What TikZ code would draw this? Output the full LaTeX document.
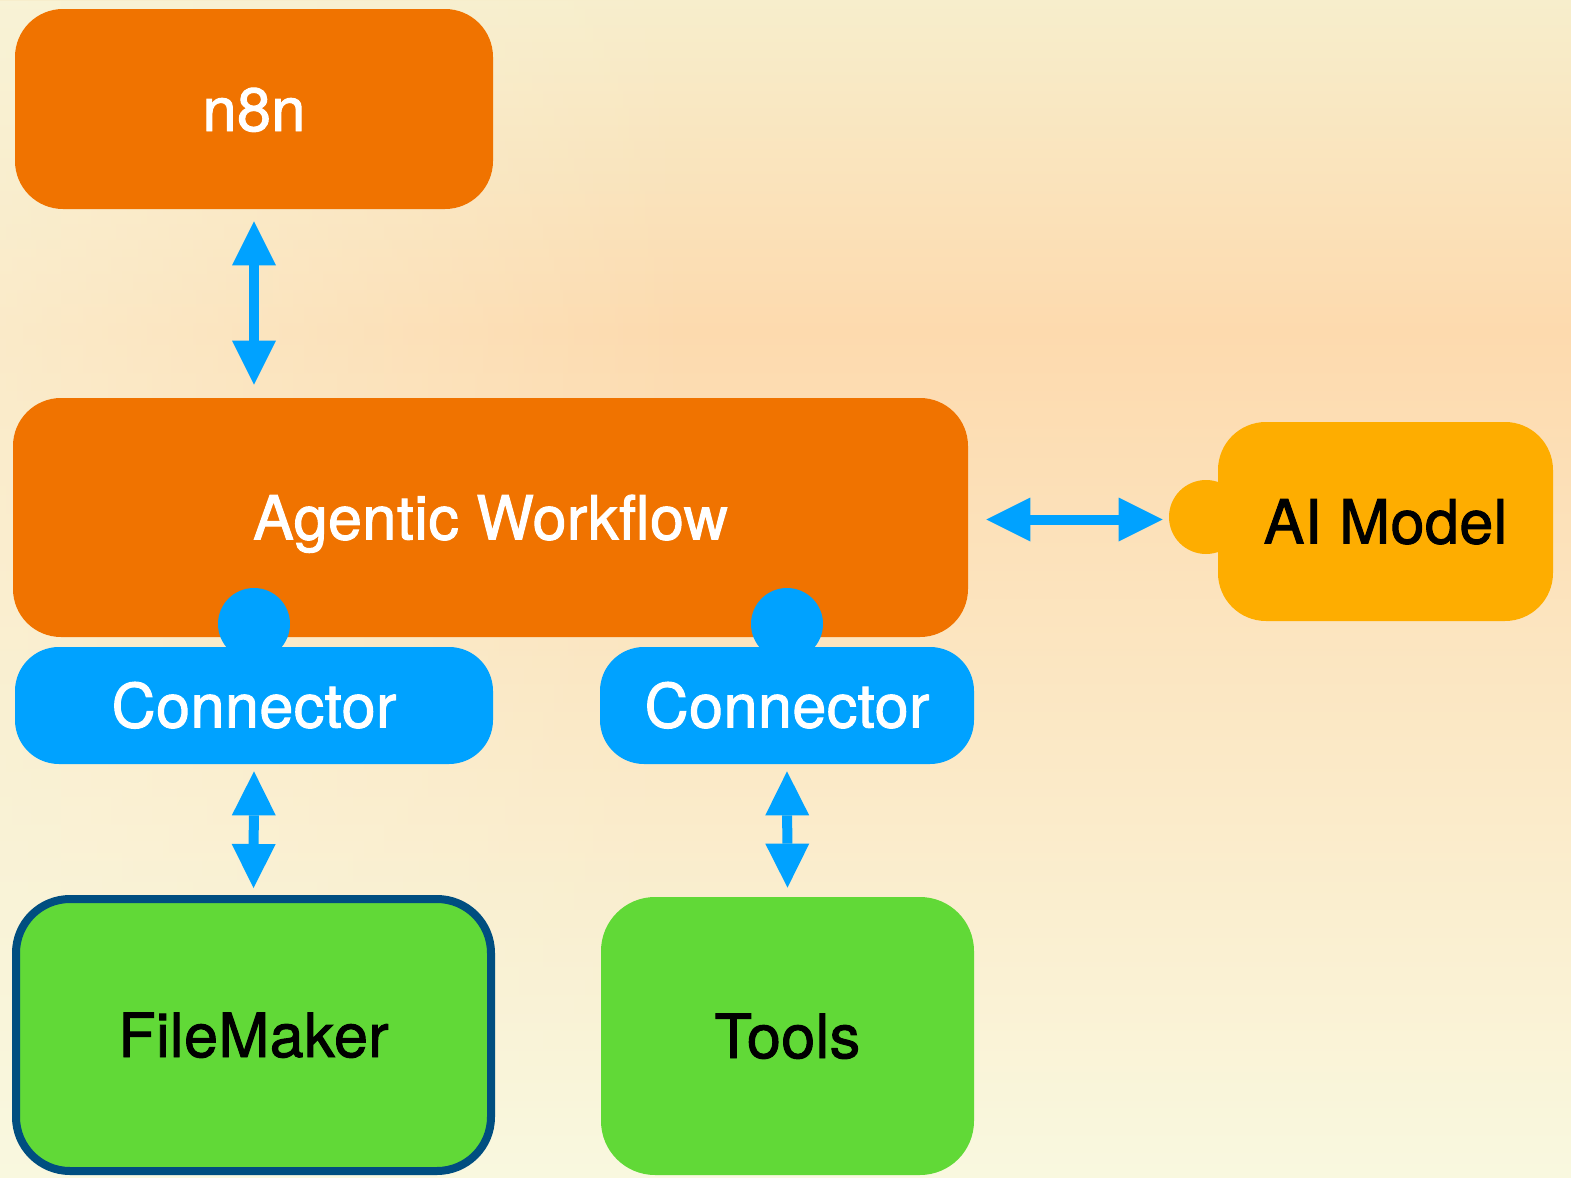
\documentclass[tikz,border=0pt]{standalone}
\usepackage{fontspec}
\setmainfont{TeX Gyre Heros}[FakeBold=1.6,LetterSpace=0.8,AutoFakeBold=1.6]
\usetikzlibrary{arrows.meta,fadings}
\definecolor{bgtop}{HTML}{F7EECC}
\definecolor{bgmid}{HTML}{FDDAAE}
\definecolor{bgbot}{HTML}{F9F8DF}
\definecolor{orng}{HTML}{F07300}
\definecolor{amber}{HTML}{FEAD00}
\definecolor{cblue}{HTML}{00A2FF}
\definecolor{grn}{HTML}{61D937}
\definecolor{navy}{HTML}{004E80}
\begin{document}
\begin{tikzpicture}[x=0.5pt,y=-0.5pt,
  box/.style={rounded corners=24pt, inner sep=0pt, text height=22pt, text depth=0pt,
    font=\fontsize{30.5pt}{36pt}\selectfont\bfseries},
  orangebox/.style={box, fill=orng, text=white},
  bluebox/.style={box, fill=cblue, text=white, rounded corners=22pt},
  greenbox/.style={box, fill=grn, text=black, rounded corners=27pt},
  bump/.style={circle, inner sep=0pt, minimum size=36pt},
  biarrow/.style={cblue, line width=5pt,
    {Triangle[length=22pt,width=22pt,line width=0pt]}-{Triangle[length=22pt,width=22pt,line width=0pt]}}
]
\useasboundingbox (0,0) rectangle (1571,1178);
\shade[top color=bgtop, bottom color=bgmid] (0,0) rectangle (1571,331);
\shade[top color=bgmid, bottom color=bgbot] (0,330) rectangle (1571,1178);
\fill[bgbot, path fading=east, fill opacity=0.55] (0,0) rectangle (700,1178);

\node[orangebox, minimum width=239pt, minimum height=100pt] (n8n) at (254,109) {n8n};
\node[orangebox, minimum width=477.5pt, minimum height=119.5pt] (agentic) at (490.5,517.5) {Agentic Workflow};

\node[bump, fill=amber, minimum size=37pt] (aibump) at (1206,517) {};
\node[box, fill=amber, text=black, minimum width=167.5pt, minimum height=99.5pt] (ai) at (1385.5,521.5) {AI Model};

\node[bump, fill=cblue] (bump1) at (254,624) {};
\node[bump, fill=cblue] (bump2) at (787,624) {};
\node[bluebox, minimum width=239pt, minimum height=58.5pt] (con1) at (254,705.5) {Connector};
\node[bluebox, minimum width=187pt, minimum height=58.5pt] (con2) at (787,705.5) {Connector};

\node[greenbox, draw=navy, line width=4pt, minimum width=237.5pt, minimum height=136pt] (fm) at (253.5,1035) {FileMaker};
\node[greenbox, minimum width=186.5pt, minimum height=139pt] (tools) at (787.5,1036) {Tools};

\draw[biarrow] ([yshift=-6pt]n8n.south) -- ([yshift=6.5pt]agentic.north -| n8n.south);
\draw[biarrow] ([xshift=9pt,yshift=-1pt]agentic.east) -- ([xshift=-3pt,yshift=-1pt]agentic.east -| aibump.west);
\draw[biarrow] ([yshift=-3.5pt]con1.south) -- ([yshift=3.5pt]fm.north);
\draw[biarrow] ([yshift=-3.5pt]con2.south) -- ([yshift=4.5pt]tools.north);
\end{tikzpicture}
\end{document}
